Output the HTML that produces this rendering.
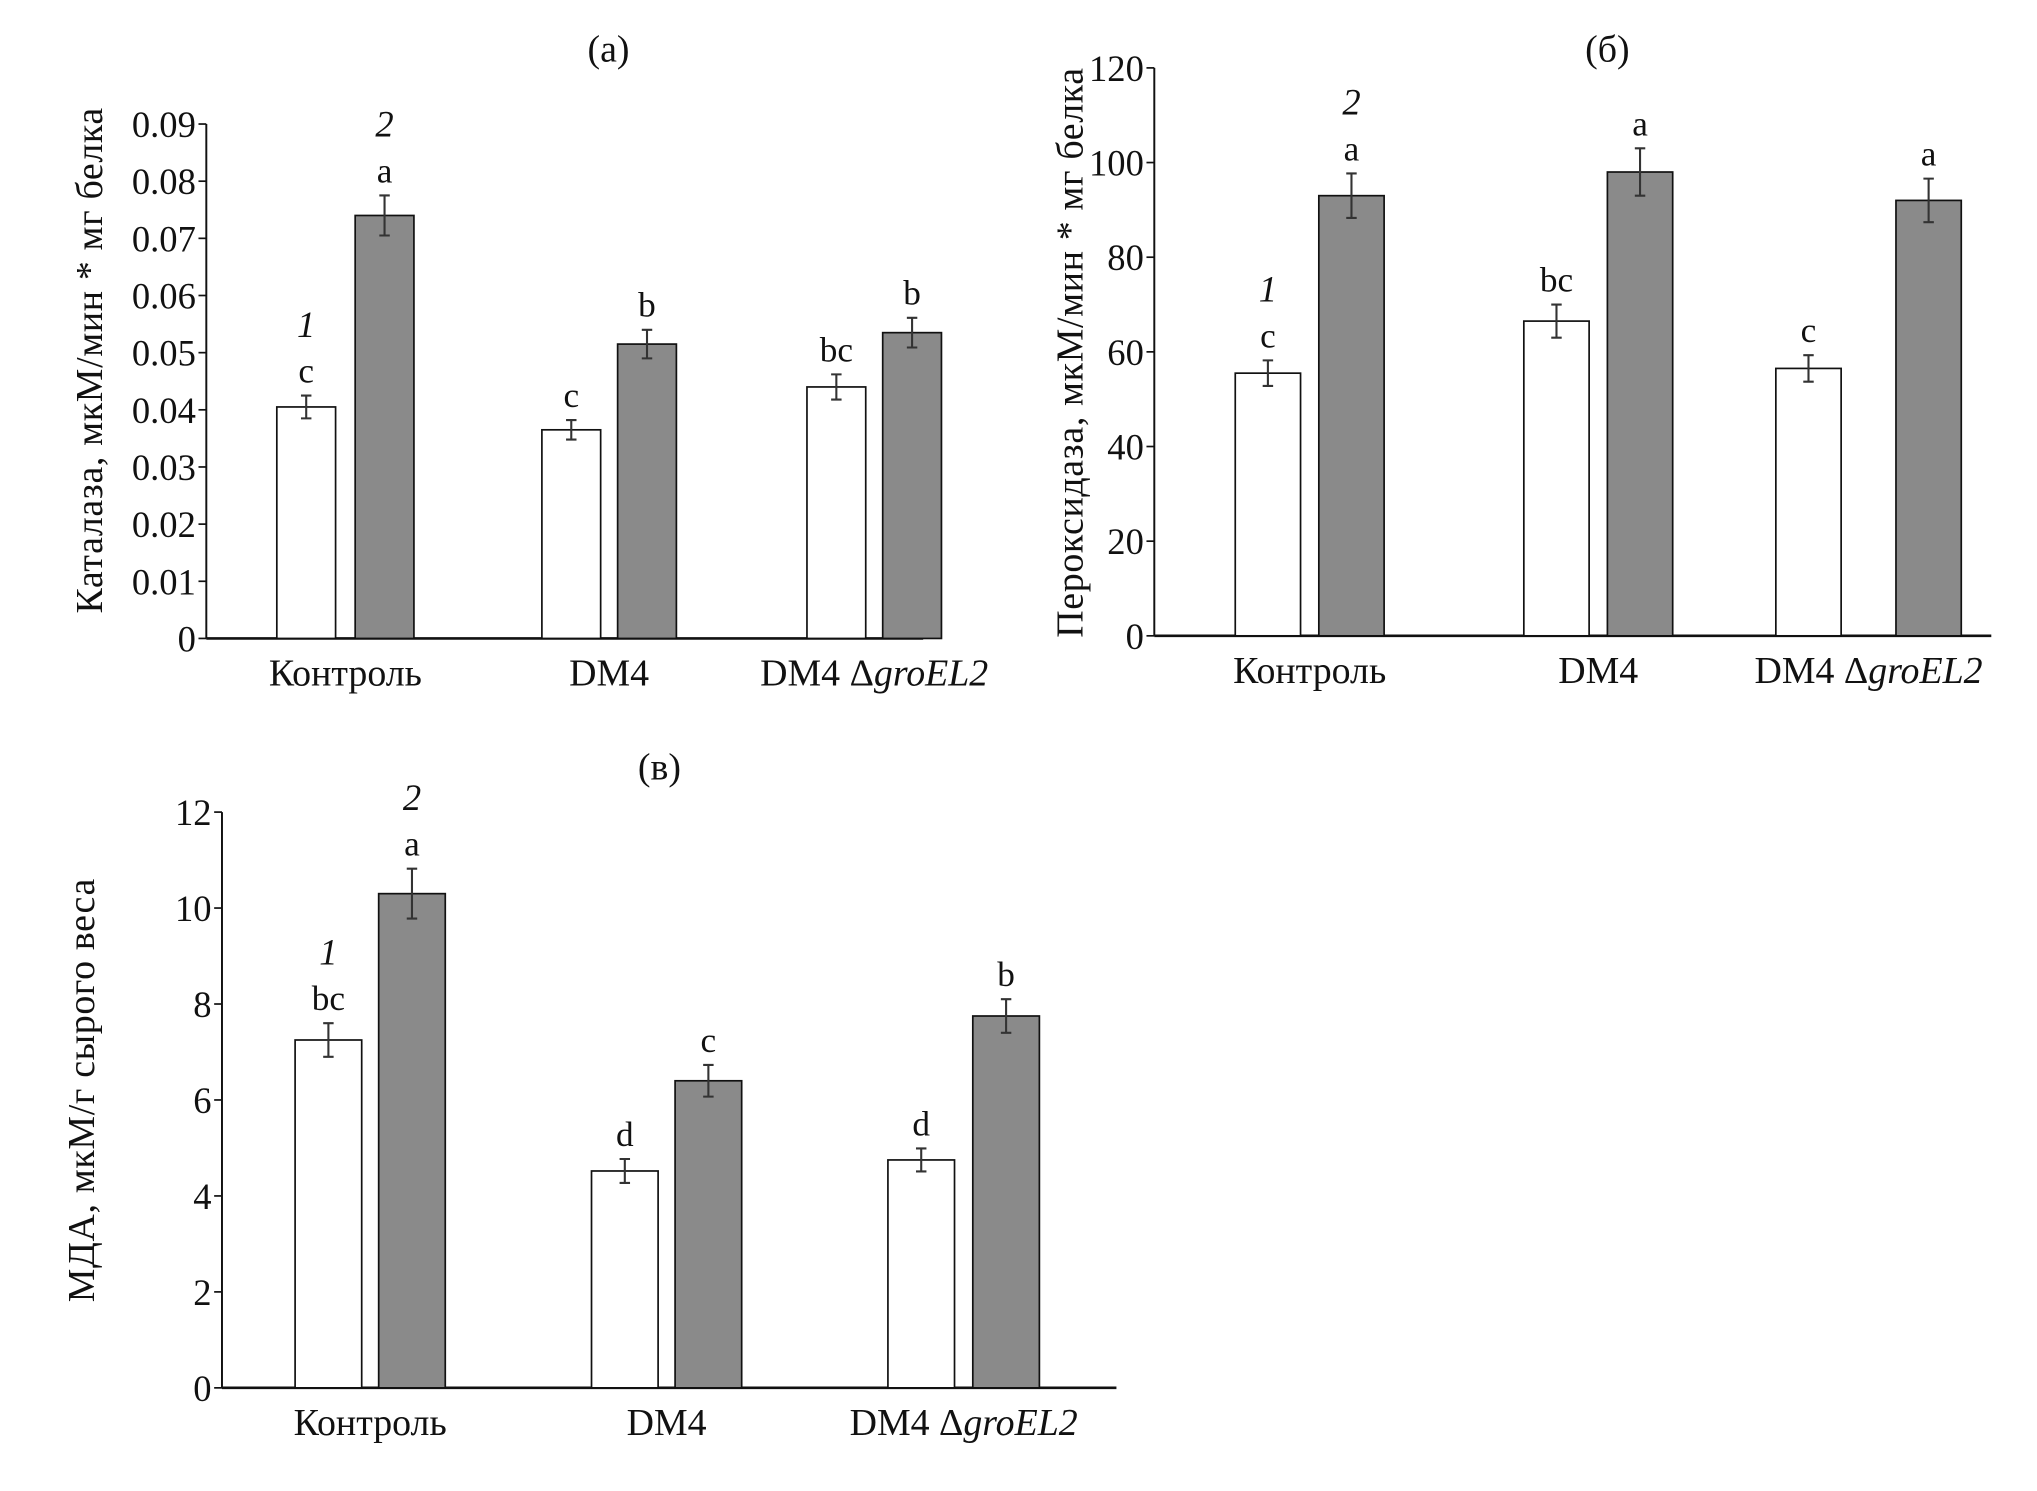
<!DOCTYPE html>
<html><head><meta charset="utf-8">
<style>
html,body{margin:0;padding:0;background:#fff;}
svg{display:block;}
text{font-family:"Liberation Serif","DejaVu Serif",serif;fill:#111;}
</style></head>
<body>
<svg id="fig" width="2037" height="1491" viewBox="0 0 1560 1142" preserveAspectRatio="none" xmlns="http://www.w3.org/2000/svg"></svg>
<script>
// ---- data ----
const categories = ["Контроль", "DM4", "DM4 Δ"];
// Panel (a) catalase
const catWhite = [0.0405, 0.0365, 0.044];
const catGray = [0.074, 0.0515, 0.0535];
const catWhiteErr = [0.002, 0.0017, 0.0022];
const catGrayErr = [0.0035, 0.0025, 0.0026];
const catWhiteLetters = ["c", "c", "bc"];
const catGrayLetters = ["a", "b", "b"];
const catTicks = ["0", "0.01", "0.02", "0.03", "0.04", "0.05", "0.06", "0.07", "0.08", "0.09"];
// Panel (б) peroxidase
const perWhite = [55.5, 66.5, 56.5];
const perGray = [93, 98, 92];
const perWhiteErr = [2.7, 3.5, 2.8];
const perGrayErr = [4.7, 5, 4.6];
const perWhiteLetters = ["c", "bc", "c"];
const perGrayLetters = ["a", "a", "a"];
const perTicks = ["0", "20", "40", "60", "80", "100", "120"];
// Panel (в) MDA
const mdaWhite = [7.25, 4.52, 4.75];
const mdaGray = [10.3, 6.4, 7.75];
const mdaWhiteErr = [0.35, 0.25, 0.24];
const mdaGrayErr = [0.52, 0.33, 0.35];
const mdaWhiteLetters = ["bc", "d", "d"];
const mdaGrayLetters = ["a", "c", "b"];
const mdaTicks = ["0", "2", "4", "6", "8", "10", "12"];

const NS = "http://www.w3.org/2000/svg";
const svg = document.getElementById("fig");
function mk(tag, attrs, parent, txt) {
  const e = document.createElementNS(NS, tag);
  for (const k in attrs) e.setAttribute(k, attrs[k]);
  if (txt !== undefined) e.textContent = txt;
  (parent || svg).appendChild(e);
  return e;
}

function panel(cfg) {
  const g = mk("g", {});
  
  
  const maxV = parseFloat(cfg.ticks[cfg.ticks.length - 1]);
  const y = v => cfg.y0 - (v / maxV) * (cfg.y0 - cfg.yTop);
  const t = mk("text", {x: cfg.titleX, y: cfg.titleY, "font-size": 29, "text-anchor": "middle"}, g, cfg.title);
  
  
  const ax = mk("line", {x1: cfg.ax, y1: cfg.yTop, x2: cfg.ax, y2: cfg.y0, stroke: "#111", "stroke-width": 1.5}, g);
  
  
  const xa = mk("line", {x1: cfg.ax, y1: cfg.y0, x2: cfg.axEnd, y2: cfg.y0, stroke: "#111", "stroke-width": 2}, g);
  
  
  cfg.ticks.forEach(tk => {
    const yy = y(parseFloat(tk));
    mk("line", {x1: cfg.ax - 6, y1: yy, x2: cfg.ax, y2: yy, stroke: "#111", "stroke-width": 1.3}, g);
    const lb = mk("text", {x: cfg.ax - 8, y: yy + 10, "font-size": 28, "text-anchor": "end"}, g, tk);
    
    
  });
  const yt = mk("text", {x: 0, y: 0, "font-size": 29, "text-anchor": "middle", "letter-spacing": "0.5",
    transform: `translate(${cfg.ytX},${cfg.ytY}) rotate(-90)`}, g, cfg.yTitle);
  
  
  const bw = cfg.bw;
  categories.forEach((c, i) => {
    const series = [[cfg.white, cfg.whiteErr, cfg.wl, "#fff", cfg.wx[i]], [cfg.gray, cfg.grayErr, cfg.gl, "#8a8a8a", cfg.gx[i]]];
    series.forEach((s, si) => {
      const v = s[0][i], e = s[1][i], x0 = s[4];
      const r = mk("rect", {x: x0, y: y(v), width: bw, height: cfg.y0 - y(v), fill: s[3], stroke: "#111", "stroke-width": 1.3}, g);
      
      
      const cx = x0 + bw / 2;
      const eb = mk("path", {d: `M${cx},${y(v + e)}V${y(v - e)}M${cx - 4},${y(v + e)}H${cx + 4}M${cx - 4},${y(v - e)}H${cx + 4}`, stroke: "#333", "stroke-width": 1.6, fill: "none"}, g);
      
      
      const lt = mk("text", {x: cx, y: y(v + e) - 10, "font-size": 27, "text-anchor": "middle"}, g, s[2][i]);
      
      
      if (i === 0) {
        const nl = mk("text", {x: cx, y: y(v + e) - 45, "font-size": 28, "text-anchor": "middle", "font-style": "italic"}, g, si ? "2" : "1");
        
        
      }
    });
    const gx = (cfg.wx[i] + cfg.gx[i] + bw) / 2;
    const cl = mk("text", {x: gx, y: cfg.y0 + 36, "font-size": 29, "text-anchor": "middle"}, g);
    
    
    if (i === 2) {
      cl.textContent = "DM4 Δ";
      mk("tspan", {"font-style": "italic"}, cl, "groEL2");
    } else cl.textContent = c;
  });
}

panel({name: "catalase-chart", title: "(a)", titleX: 466, titleY: 47, ax: 158, axEnd: 707, y0: 489, yTop: 95,
  ticks: catTicks, white: catWhite, gray: catGray, whiteErr: catWhiteErr, grayErr: catGrayErr,
  wl: catWhiteLetters, gl: catGrayLetters, bw: 45, wx: [212, 415, 618], gx: [272, 473, 676],
  yTitle: "Каталаза, мкМ/мин * мг белка", ytX: 78, ytY: 276});
panel({name: "peroxidase-chart", title: "(б)", titleX: 1231, titleY: 47, ax: 884, axEnd: 1525, y0: 487, yTop: 52,
  ticks: perTicks, white: perWhite, gray: perGray, whiteErr: perWhiteErr, grayErr: perGrayErr,
  wl: perWhiteLetters, gl: perGrayLetters, bw: 50, wx: [946, 1167, 1360], gx: [1010, 1231, 1452],
  yTitle: "Пероксидаза, мкМ/мин * мг белка", ytX: 829, ytY: 270});
panel({name: "mda-chart", title: "(в)", titleX: 505, titleY: 597, ax: 170, axEnd: 855, y0: 1063, yTop: 622,
  ticks: mdaTicks, white: mdaWhite, gray: mdaGray, whiteErr: mdaWhiteErr, grayErr: mdaGrayErr,
  wl: mdaWhiteLetters, gl: mdaGrayLetters, bw: 51, wx: [226, 453, 680], gx: [290, 517, 745],
  yTitle: "МДА, мкМ/г сырого веса", ytX: 72, ytY: 835});
</script>
</body></html>
